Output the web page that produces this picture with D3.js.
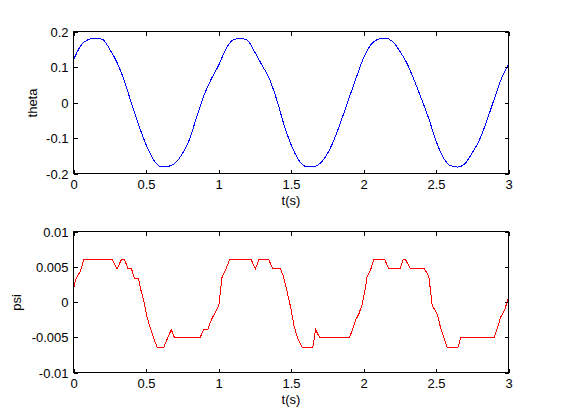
<!DOCTYPE html>
<html>
<head>
<meta charset="utf-8">
<script src="https://cdn.jsdelivr.net/npm/d3@7"></script>
<style>
  html, body { margin: 0; padding: 0; background: #ffffff; }
  svg { display: block; }
  text { font-family: "Liberation Sans", Arial, Helvetica, sans-serif; font-size: 13px; fill: #000; }
</style>
</head>
<body>
<div id="chart"></div>
<script>
// ---- Data ----
const thetaT = [0.00,0.05,0.10,0.15,0.20,0.25,0.30,0.35,0.40,0.45,0.50,0.55,0.60,0.65,0.70,0.75,0.80,0.85,0.90,0.95,
                1.00,1.05,1.10,1.15,1.20,1.25,1.30,1.35,1.40,1.45,1.50,1.55,1.60,1.65,1.70,1.75,1.80,1.85,1.90,1.95,
                2.00,2.05,2.10,2.15,2.20,2.25,2.30,2.35,2.40,2.45,2.50,2.55,2.60,2.65,2.70,2.75,2.80,2.85,2.90,2.95,3.00];
const thetaV = [0.120,0.160,0.177,0.181,0.178,0.150,0.113,0.062,-0.003,-0.064,-0.118,-0.160,-0.180,-0.180,-0.171,-0.145,-0.104,-0.040,0.020,0.066,
                0.104,0.150,0.176,0.181,0.175,0.142,0.105,0.068,0.010,-0.060,-0.118,-0.160,-0.180,-0.181,-0.172,-0.145,-0.102,-0.047,0.012,0.070,
                0.125,0.162,0.178,0.181,0.172,0.145,0.110,0.062,0.010,-0.045,-0.108,-0.155,-0.178,-0.182,-0.172,-0.142,-0.105,-0.052,0.008,0.066,0.108];

const psiT = [0.000,0.012,0.025,0.048,0.071,0.269,0.301,0.330,0.352,0.377,0.400,0.420,0.448,0.462,0.485,0.508,0.531,0.554,0.577,0.623,
              0.674,0.697,0.871,0.899,0.926,0.949,0.979,1.002,1.014,1.025,1.048,1.076,1.225,1.255,1.278,1.347,1.375,1.428,1.448,1.474,
              1.497,1.520,1.543,1.577,1.651,1.669,1.699,1.903,1.922,1.945,1.968,1.991,2.014,2.025,2.048,2.071,2.147,2.175,2.251,2.274,
              2.290,2.324,2.421,2.451,2.462,2.474,2.508,2.531,2.554,2.577,2.651,2.671,2.899,2.922,2.945,2.972,3.000];
const psiV = [0.0017,0.0030,0.0036,0.0044,0.0060,0.0060,0.0047,0.0060,0.0060,0.0047,0.0047,0.0034,0.0034,0.0019,0.0002,-0.0022,-0.0038,-0.0052,-0.0064,-0.0064,
              -0.0039,-0.0051,-0.0051,-0.0039,-0.0039,-0.0026,-0.0014,-0.0005,0.0016,0.0036,0.0045,0.0060,0.0060,0.0047,0.0060,0.0060,0.0047,0.0047,0.0036,0.0014,
              -0.0007,-0.0033,-0.0050,-0.0064,-0.0064,-0.0039,-0.0051,-0.0051,-0.0040,-0.0026,-0.0017,-0.0003,0.0021,0.0036,0.0045,0.0060,0.0060,0.0047,0.0047,0.0060,
              0.0060,0.0047,0.0047,0.0036,0.0016,-0.0005,-0.0017,-0.0036,-0.0050,-0.0064,-0.0064,-0.0051,-0.0051,-0.0038,-0.0022,-0.0012,0.0006];

const xTicks = [0, 0.5, 1, 1.5, 2, 2.5, 3];
const xTickLabels = ["0", "0.5", "1", "1.5", "2", "2.5", "3"];
const thetaTicks = [-0.2, -0.1, 0, 0.1, 0.2];
const thetaTickLabels = ["-0.2", "-0.1", "0", "0.1", "0.2"];
const psiTicks = [-0.01, -0.005, 0, 0.005, 0.01];
const psiTickLabels = ["-0.01", "-0.005", "0", "0.005", "0.01"];

// ---- Layout ----
const W = 561, H = 420;
const svg = d3.select("#chart").append("svg").attr("width", W).attr("height", H);
svg.append("rect").attr("width", W).attr("height", H).attr("fill", "#fff");

function panel(opts) {
  const { left, right, top, bottom, yDomain, yTicks, yLabels, xs, ys, color, ylabel, ylabelX, curve } = opts;
  const x = d3.scaleLinear().domain([0, 3]).range([left + 0.5, right + 0.5]);
  const y = d3.scaleLinear().domain(yDomain).range([bottom + 0.5, top + 0.5]);
  const g = svg.append("g");
  const tl = 4;

  // data line (clipped)
  const clipId = "clip" + top;
  svg.append("clipPath").attr("id", clipId).append("rect")
    .attr("x", left).attr("y", top).attr("width", right - left + 1).attr("height", bottom - top + 1);
  const data = xs.map((t, i) => [t, ys[i]]);
  g.append("path")
    .attr("clip-path", `url(#${clipId})`)
    .attr("d", d3.line().x(d => x(d[0])).y(d => y(d[1])).curve(curve)(data))
    .attr("fill", "none").attr("stroke", color).attr("stroke-width", 1)
    .attr("shape-rendering", "crispEdges");

  // axes with inward ticks (mirrored)
  const ax = g.append("g").attr("shape-rendering", "crispEdges");
  const bottomAxis = d3.axisBottom(x).tickValues(xTicks).tickSizeInner(-tl).tickSizeOuter(0)
    .tickFormat((d, i) => xTickLabels[i]).tickPadding(0);
  const gb = ax.append("g").attr("transform", `translate(0,${bottom + 0.5})`).call(bottomAxis);
  const topAxis = d3.axisTop(x).tickValues(xTicks).tickSizeInner(-tl).tickSizeOuter(0).tickFormat("");
  const gt = ax.append("g").attr("transform", `translate(0,${top + 0.5})`).call(topAxis);
  const leftAxis = d3.axisLeft(y).tickValues(yTicks).tickSizeInner(-tl).tickSizeOuter(0)
    .tickFormat((d, i) => yLabels[i]).tickPadding(0);
  const gl = ax.append("g").attr("transform", `translate(${left + 0.5},0)`).call(leftAxis);
  const rightAxis = d3.axisRight(y).tickValues(yTicks).tickSizeInner(-tl).tickSizeOuter(0).tickFormat("");
  const gr = ax.append("g").attr("transform", `translate(${right + 0.5},0)`).call(rightAxis);
  [gb, gt, gl, gr].forEach(a => {
    a.select(".domain").remove();
    a.selectAll("line").attr("stroke", "#000");
    a.selectAll("text").attr("font-family", null).attr("font-size", null).attr("fill", "#000");
  });
  gb.selectAll("text").attr("y", 15).attr("dy", null);
  gl.selectAll("text").attr("x", -5).attr("dy", "0.36em");

  // box
  ax.append("rect").attr("x", left + 0.5).attr("y", top + 0.5)
    .attr("width", right - left).attr("height", bottom - top)
    .attr("fill", "none").attr("stroke", "#000").attr("stroke-width", 1);

  // labels
  svg.append("text").attr("x", (left + right) / 2 + 0.5).attr("y", bottom + 32)
    .attr("text-anchor", "middle").text("t(s)");
  svg.append("text").attr("transform", `translate(${ylabelX},${(top + bottom) / 2 + 1}) rotate(-90)`)
    .attr("text-anchor", "middle").text(ylabel);
}

panel({ left: 73, right: 508, top: 31, bottom: 173, yDomain: [-0.2, 0.2], yTicks: thetaTicks, yLabels: thetaTickLabels,
        xs: thetaT, ys: thetaV, color: "#0000ff", ylabel: "theta", ylabelX: 37, curve: d3.curveMonotoneX });
panel({ left: 73, right: 508, top: 231, bottom: 372, yDomain: [-0.01, 0.01], yTicks: psiTicks, yLabels: psiTickLabels,
        xs: psiT, ys: psiV, color: "#ff0000", ylabel: "psi", ylabelX: 21, curve: d3.curveLinear });
</script>
</body>
</html>
